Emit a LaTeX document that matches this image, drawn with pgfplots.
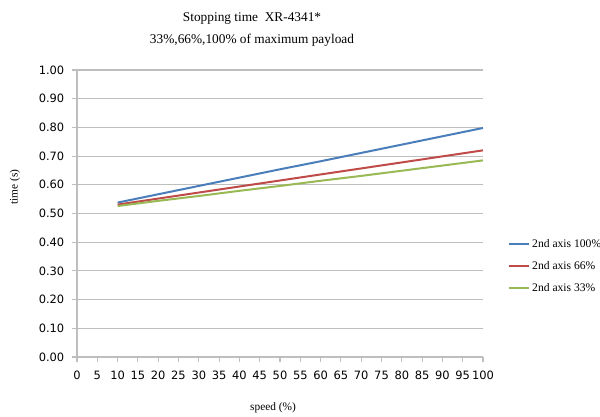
\documentclass[border=0pt]{standalone}
\usepackage{pgfplots}
\pgfplotsset{compat=1.18}
\usepackage{fontspec}
\setmainfont{Liberation Serif}
\newfontfamily\tickfont{DejaVu Sans}
\definecolor{sblue}{RGB}{74,126,187}
\definecolor{sred}{RGB}{190,75,72}
\definecolor{sgreen}{RGB}{152,185,84}
\definecolor{gridc}{RGB}{190,190,190}
\begin{document}
\begin{tikzpicture}[x=0.75pt,y=0.75pt]
\useasboundingbox (0,0) rectangle (600,417);
\begin{axis}[
  at={(57.75pt,45pt)}, anchor=south west,
  scale only axis, width=304.5pt, height=215.25pt,
  xmin=0, xmax=100, ymin=0, ymax=1,
  xtick={0,5,...,100},
  ytick={0,0.1,...,1.0},
  axis x line*=bottom, axis y line*=left,
  axis line style={gridc, line width=0.8pt},
  ymajorgrids, grid style={gridc, line width=0.8pt},
  tick style={gridc, line width=0.8pt},
  tick align=outside, major tick length=4pt,
  /pgf/number format/assume math mode=true,
  yticklabel style={font=\tickfont\fontsize{8.6}{10}\selectfont, /pgf/number format/.cd, fixed, fixed zerofill, precision=2},
  xticklabel style={font=\tickfont\fontsize{8.6}{10}\selectfont},
  xticklabel shift=3pt,
  yticklabel shift=2pt,
  clip=false,
  legend style={at={(1.05,0.43)}, anchor=north west, draw=none, fill=none,
    font=\fontsize{8.7}{10}\selectfont, row sep=5pt},
  legend cell align=left,
  legend image code/.code={\draw[#1, line width=1.5pt] (0,0) -- (15pt,0);},
]
\addplot[sblue, line width=1.5pt] coordinates {(10,0.538) (20,0.567) (30,0.596) (40,0.625) (50,0.654) (60,0.682) (70,0.711) (80,0.740) (90,0.769) (100,0.798)};
\addlegendentry{2nd axis 100\%}
\addplot[sred, line width=1.5pt] coordinates {(10,0.531) (20,0.552) (30,0.573) (40,0.594) (50,0.615) (60,0.636) (70,0.657) (80,0.678) (90,0.699) (100,0.720)};
\addlegendentry{2nd axis 66\%}
\addplot[sgreen, line width=1.5pt] coordinates {(10,0.526) (20,0.544) (30,0.561) (40,0.579) (50,0.596) (60,0.614) (70,0.631) (80,0.649) (90,0.667) (100,0.685)};
\addlegendentry{2nd axis 33\%}
\end{axis}
\node[font=\fontsize{10}{12}\selectfont] at (252,398) {Stopping time\ \ XR-4341*};
\node[font=\fontsize{10}{12}\selectfont] at (252,377) {33\%,66\%,100\% of maximum payload};
\node[font=\fontsize{8.5}{10}\selectfont] at (273,9) {speed (\%)};
\node[font=\fontsize{8.5}{10}\selectfont, rotate=90] at (15,230) {time (s)};
\end{tikzpicture}
\end{document}
